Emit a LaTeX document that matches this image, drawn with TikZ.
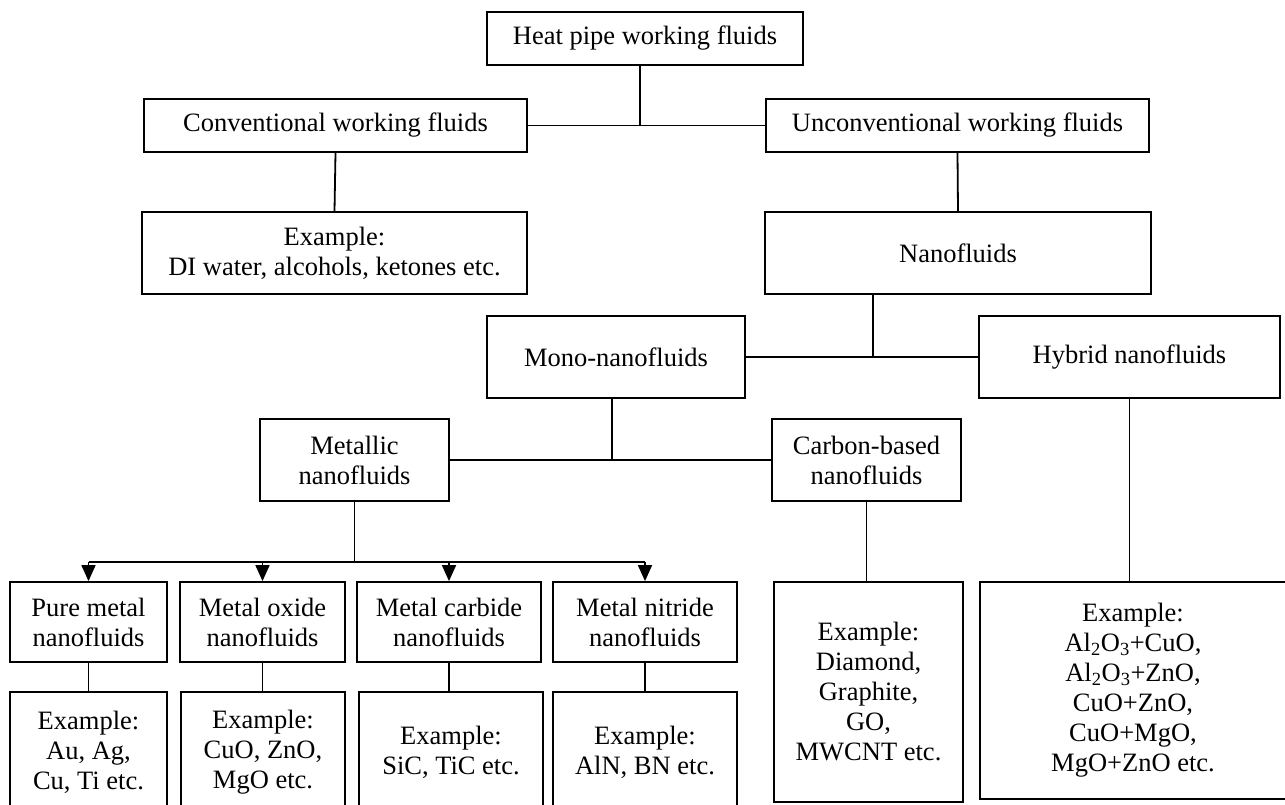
\documentclass[tikz,border=0pt]{standalone}
\usepackage{fontspec}
\setmainfont{Liberation Serif}
\usetikzlibrary{arrows.meta}

\begin{document}
\begin{tikzpicture}[x=1pt, y=-1pt,
  fbox/.style={draw, line width=1.8pt, inner sep=2pt, align=center, font=\fontsize{26.5}{30}\selectfont},
  link/.style={line width=1.8pt},
  arr/.style={link, -{Triangle[length=16pt, width=14pt]}}]
\useasboundingbox (0,0) rectangle (1285,805);
\clip (0,0) rectangle (1285,805);
% Root
\node[fbox, minimum width=316pt, minimum height=53pt] (heat) at (645,38.5) {Heat pipe working fluids};
% Conventional / unconventional
\node[fbox, minimum width=383pt, minimum height=53pt] (conv) at (335.5,125.5) {Conventional working fluids};
\node[fbox, minimum width=383pt, minimum height=53pt] (unconv) at (957.5,125.5) {Unconventional working fluids};
\node[fbox, minimum width=385pt, minimum height=82pt] (convex) at (334.5,253) {Example:\\DI water, alcohols, ketones etc.};
\node[fbox, minimum width=386pt, minimum height=82pt] (nano) at (958,253) {Nanofluids};
% Mono / hybrid
\node[fbox, minimum width=258pt, minimum height=82pt] (mono) at (616,357) {Mono-nanofluids};
\node[fbox, minimum width=301pt, minimum height=82pt] (hybrid) at (1129.5,357) {Hybrid nanofluids};
% Metallic / carbon
\node[fbox, minimum width=189pt, minimum height=82pt] (metal) at (354.5,460) {Metallic\\nanofluids};
\node[fbox, minimum width=189pt, minimum height=82pt] (carbon) at (866.5,460) {Carbon-based\\nanofluids};
% Metallic classes
\node[fbox, minimum width=157pt, minimum height=80pt] (pure) at (88.5,622) {Pure metal\\nanofluids};
\node[fbox, minimum width=165pt, minimum height=80pt] (oxide) at (262.5,622) {Metal oxide\\nanofluids};
\node[fbox, minimum width=184pt, minimum height=80pt] (carbide) at (449,622) {Metal carbide\\nanofluids};
\node[fbox, minimum width=184pt, minimum height=80pt] (nitride) at (645,622) {Metal nitride\\nanofluids};
% Examples
\node[fbox, minimum width=157pt, minimum height=120pt] (pureex) at (88.5,752) {Example:\\Au, Ag,\\Cu, Ti etc.};
\node[fbox, minimum width=164pt, minimum height=120pt] (oxideex) at (263,752) {Example:\\CuO, ZnO,\\MgO etc.};
\node[fbox, minimum width=184pt, minimum height=120pt] (carbideex) at (451,752) {Example:\\SiC, TiC etc.};
\node[fbox, minimum width=184pt, minimum height=120pt] (nitrideex) at (645,752) {Example:\\AlN, BN etc.};
\node[fbox, minimum width=189pt, minimum height=220pt] (carbonex) at (868.5,692) {Example:\\Diamond,\\Graphite,\\GO,\\MWCNT etc.};
\node[fbox, minimum width=306pt, minimum height=217pt] (hybridex) at (1133,690.5) {Example:\\Al\textsubscript{2}O\textsubscript{3}+CuO,\\Al\textsubscript{2}O\textsubscript{3}+ZnO,\\CuO+ZnO,\\CuO+MgO,\\MgO+ZnO etc.};
% Junctions
\coordinate (nanoj) at (873,357);
\coordinate (bus) at (350,562);
% Tree links
\draw[link] (conv.east) -- (unconv.west);
\draw[link] ([xshift=-5pt]heat.south) -- ([xshift=-5pt]heat.south |- conv.east);
\draw[link] (conv.south) -- (convex.north);
\draw[link] (unconv.south) -- (nano.north);
\draw[link] (mono.east) -- (hybrid.west);
\draw[link] (nanoj |- nano.south) -- (nanoj);
\draw[link] (metal.east) -- (carbon.west);
\draw[link] ([xshift=-4pt]mono.south) -- ([xshift=-4pt]mono.south |- metal.east);
\draw[link] (metal.south) -- (metal.south |- bus);
\draw[link] (bus -| pure.north) -- (bus -| nitride.north);
\foreach \n in {pure,oxide,carbide,nitride}{
  \draw[arr] (bus -| \n.north) -- (\n.north);
  \draw[link] (\n.south) -- (\n.south |- \n ex.north);
}
\draw[link] (carbon.south) -- (carbonex.north -| carbon.south);
\draw[link] (hybrid.south) -- (hybridex.north -| hybrid.south);
\end{tikzpicture}
\end{document}
